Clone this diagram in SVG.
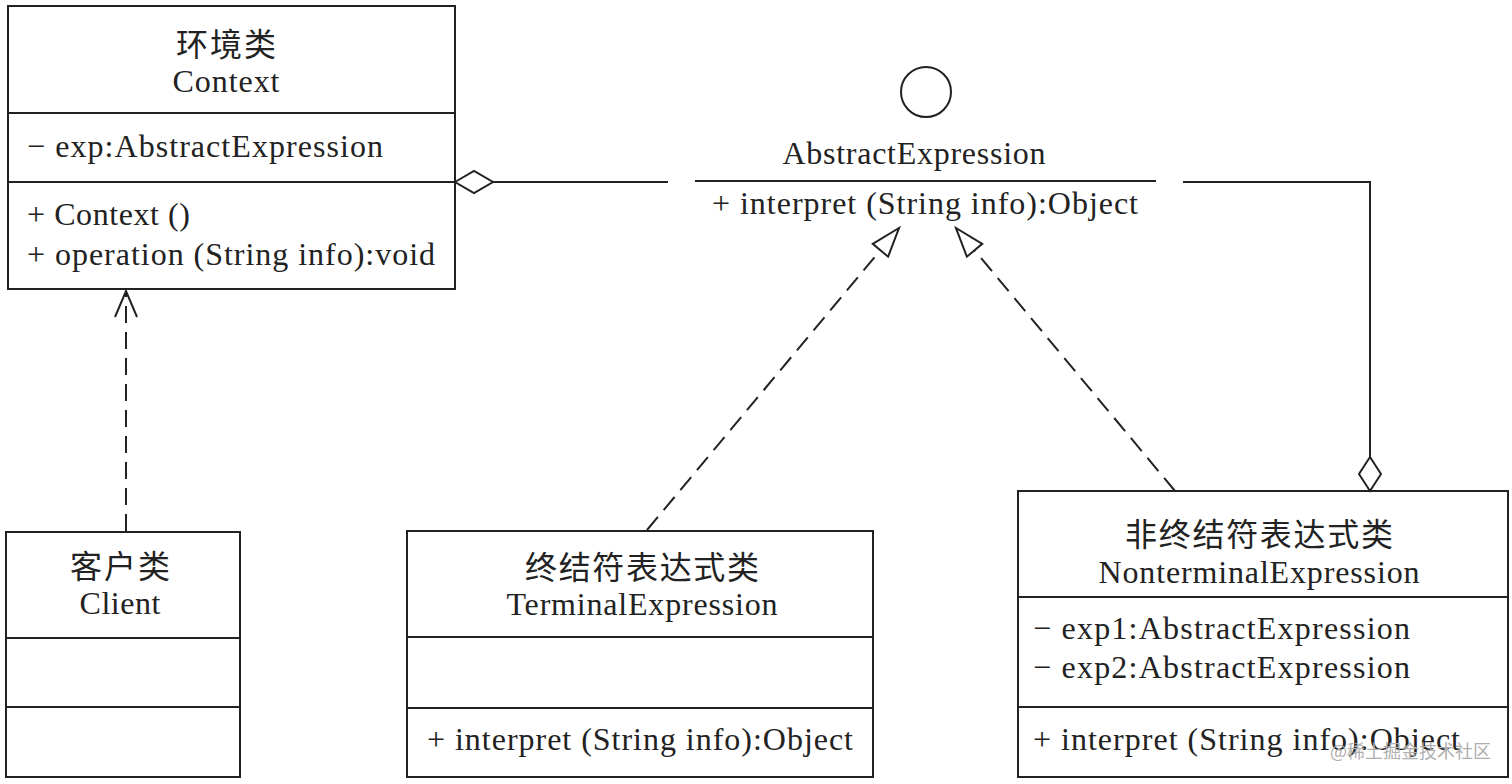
<svg xmlns="http://www.w3.org/2000/svg" width="1512" height="784" viewBox="0 0 1512 784">
<style>
.box{fill:#fff;stroke:#222;stroke-width:2}
.sep{stroke:#222;stroke-width:2}
.t{font-family:"Liberation Serif","Noto Sans CJK SC",serif;font-size:32px;fill:#222}
.zh{font-family:"Noto Sans CJK SC","Liberation Serif",sans-serif;font-size:32px;fill:#222}
.c{text-anchor:middle}
.ln{fill:none;stroke:#222;stroke-width:2}
.dash{stroke-dasharray:17 9}
.wm{font-family:"Noto Sans CJK SC",sans-serif;font-size:18px;fill:#b0b0b0}
</style>
<defs>
<marker id="tri" viewBox="0 0 30 22" refX="30" refY="11" markerWidth="30" markerHeight="22" markerUnits="userSpaceOnUse" orient="auto" overflow="visible">
<path d="M1,1 L30,11 L1,21 Z" fill="#fff" stroke="#222" stroke-width="2" stroke-linejoin="miter"/>
</marker>
<marker id="open" viewBox="0 0 26 22" refX="26" refY="11" markerWidth="26" markerHeight="22" markerUnits="userSpaceOnUse" orient="auto" overflow="visible">
<path d="M0,0 L26,11 L0,22" fill="none" stroke="#222" stroke-width="2"/>
</marker>
</defs>
<rect width="1512" height="784" fill="#fff"/>

<g id="context">
<rect class="box" x="8" y="6" width="447" height="283"/>
<line class="sep" x1="8" y1="113" x2="455" y2="113"/>
<line class="sep" x1="8" y1="182" x2="455" y2="182"/>
<text class="zh c" x="226" y="56" textLength="100">环境类</text>
<text class="t c" x="226" y="92" textLength="107">Context</text>
<text class="t" x="27" y="157" textLength="356">− exp:AbstractExpression</text>
<text class="t" x="27" y="225" textLength="163">+ Context ()</text>
<text class="t" x="27" y="265" textLength="408">+ operation (String info):void</text>
</g>

<g id="abstractExpression">
<circle cx="926" cy="92" r="25" fill="#fff" stroke="#222" stroke-width="2"/>
<text class="t c" x="914" y="164" textLength="263">AbstractExpression</text>
<line class="sep" x1="695" y1="181" x2="1156" y2="181"/>
<text class="t" x="712" y="214" textLength="426">+ interpret (String info):Object</text>
</g>

<g id="client">
<rect class="box" x="6" y="532" width="234" height="245"/>
<line class="sep" x1="6" y1="638" x2="240" y2="638"/>
<line class="sep" x1="6" y1="707" x2="240" y2="707"/>
<text class="zh c" x="120" y="578" textLength="100">客户类</text>
<text class="t c" x="120" y="614" textLength="81">Client</text>
</g>

<g id="terminalExpression">
<rect class="box" x="407" y="531" width="466" height="246"/>
<line class="sep" x1="407" y1="637" x2="873" y2="637"/>
<line class="sep" x1="407" y1="708" x2="873" y2="708"/>
<text class="zh c" x="642" y="579" textLength="234">终结符表达式类</text>
<text class="t c" x="642" y="615" textLength="271">TerminalExpression</text>
<text class="t" x="427" y="750" textLength="426">+ interpret (String info):Object</text>
</g>

<g id="nonterminalExpression">
<rect class="box" x="1018" y="491" width="490" height="286"/>
<line class="sep" x1="1018" y1="597" x2="1508" y2="597"/>
<line class="sep" x1="1018" y1="707" x2="1508" y2="707"/>
<text class="zh c" x="1259" y="546" textLength="268">非终结符表达式类</text>
<text class="t c" x="1259" y="583" textLength="321">NonterminalExpression</text>
<text class="t" x="1033" y="639" textLength="377">− exp1:AbstractExpression</text>
<text class="t" x="1033" y="678" textLength="377">− exp2:AbstractExpression</text>
<text class="t" x="1033" y="750" textLength="427">+ interpret (String info):Object</text>
</g>

<g id="connectors">
<polygon class="ln" points="455,182 474,171 493,182 474,193" fill="#fff"/>
<line class="ln" x1="493" y1="182" x2="668" y2="182"/>
<polyline class="ln" points="1183,182 1370,182 1370,457"/>
<polygon class="ln" points="1370,457 1381,474 1370,491 1359,474" fill="#fff"/>
<line class="ln dash" x1="126" y1="531" x2="126" y2="291" marker-end="url(#open)"/>
<line class="ln dash" x1="647" y1="530" x2="899" y2="228" marker-end="url(#tri)"/>
<line class="ln dash" x1="1175" y1="491" x2="956" y2="228" marker-end="url(#tri)"/>
</g>

<text class="wm" x="1330" y="758">@稀土掘金技术社区</text>
</svg>
